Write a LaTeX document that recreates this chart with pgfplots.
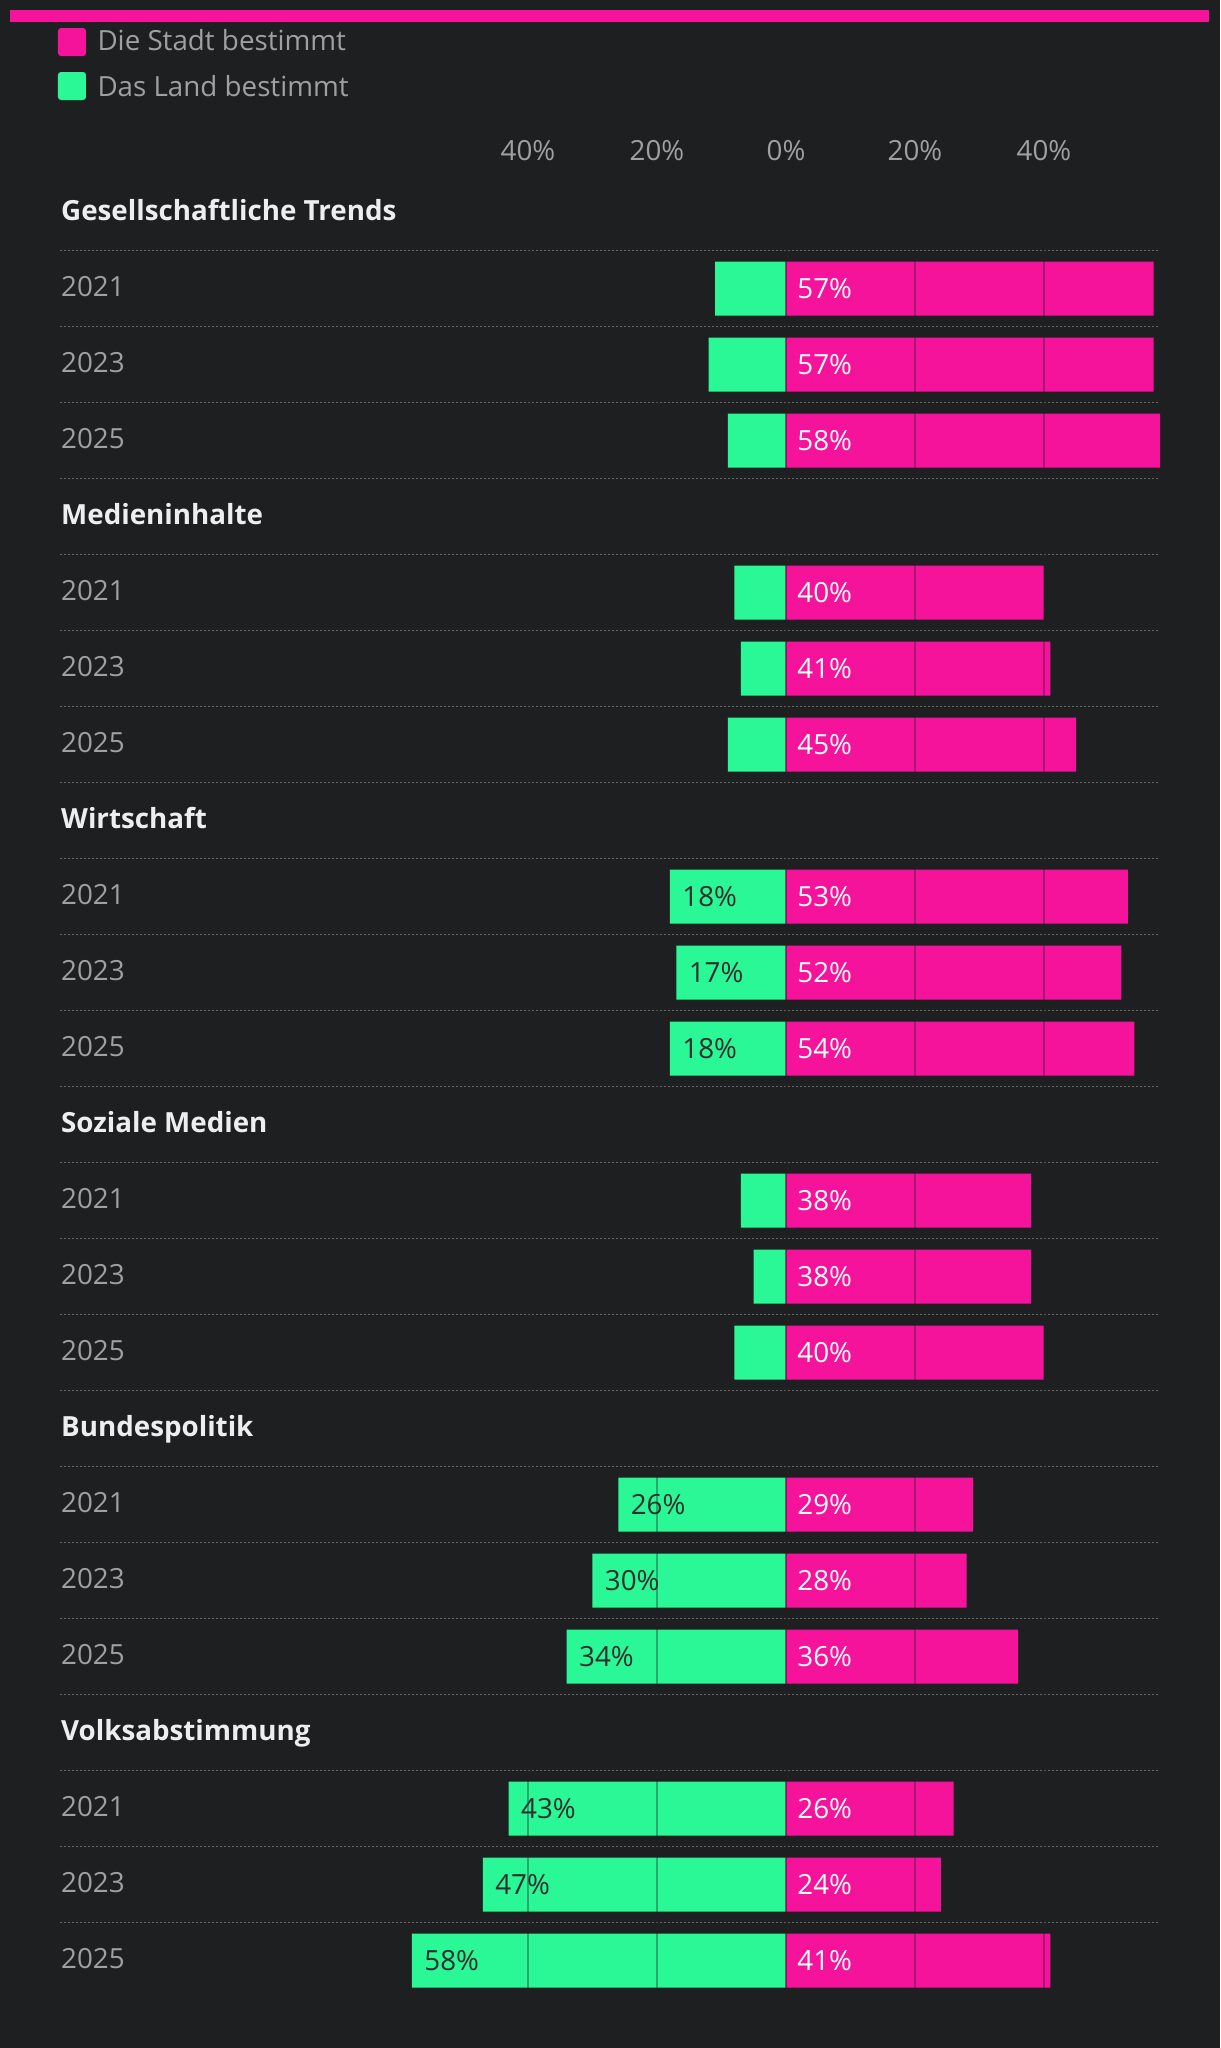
\documentclass[border=0pt]{standalone}
\usepackage{fontspec}
\setmainfont{Open Sans}
\usepackage{pgfplots}
\pgfplotsset{compat=1.18}
\definecolor{bg}{HTML}{1E1F21}
\definecolor{pinkc}{HTML}{F5139B}
\definecolor{greenc}{HTML}{2AF795}
\definecolor{txtgray}{HTML}{A0A0A0}
\definecolor{titlec}{HTML}{EEEEEE}
\definecolor{darktxt}{HTML}{2E2E2E}
\definecolor{dotc}{HTML}{666666}
\tikzset{
  lbl/.style={anchor=base west, inner sep=0pt, text=txtgray},
  ttl/.style={anchor=base west, inner sep=0pt, text=titlec, font=\bfseries},
  tck/.style={anchor=base, inner sep=0pt, text=txtgray},
}
\begin{document}
\fontsize{11.1}{13.3}\selectfont
\begin{tikzpicture}
\begin{axis}[
  width=488pt, height=819.2pt, scale only axis,
  xmin=-121.86, xmax=67.29, ymin=0, ymax=2048, y dir=reverse,
  axis background/.style={fill=bg},
  axis line style={draw=none}, xtick=\empty, ytick=\empty,
  clip=false,
]
% top accent bar
\fill[pinkc] (axis cs:-120.31,10) rectangle (axis cs:65.58,21.7);
% legend
\fill[pinkc, rounded corners=1.2pt] (axis cs:-112.87,28) rectangle (axis cs:-108.53,56);
\fill[greenc, rounded corners=1.2pt] (axis cs:-112.87,72) rectangle (axis cs:-108.53,100);
\node[lbl] at (axis cs:-106.82,50.7) {Die Stadt bestimmt};
\node[lbl] at (axis cs:-106.82,96) {Das Land bestimmt};
% tick labels
\node[tck] at (axis cs:-40,160.7) {40\%};
\node[tck] at (axis cs:-20,160.7) {20\%};
\node[tck] at (axis cs:0,160.7) {0\%};
\node[tck] at (axis cs:20,160.7) {20\%};
\node[tck] at (axis cs:40,160.7) {40\%};
% dotted separators
\pgfplotsinvokeforeach{0,...,22}{
  \draw[dotc, line width=0.5pt, dash pattern=on 0.8pt off 0.8pt] (axis cs:-112.56,{250.7+76*#1}) -- (axis cs:57.98,{250.7+76*#1});
}
% group titles
\node[ttl] at (axis cs:-112.45,220) {Gesellschaftliche Trends};
\node[ttl] at (axis cs:-112.45,524) {Medieninhalte};
\node[ttl] at (axis cs:-112.45,828) {Wirtschaft};
\node[ttl] at (axis cs:-112.45,1132) {Soziale Medien};
\node[ttl] at (axis cs:-112.45,1436) {Bundespolitik};
\node[ttl] at (axis cs:-112.45,1740) {Volksabstimmung};
% year labels
\pgfplotsinvokeforeach{0,1,2,3,4,5}{
  \node[lbl] at (axis cs:-112.45,{296+304*#1}) {2021};
  \node[lbl] at (axis cs:-112.45,{372+304*#1}) {2023};
  \node[lbl] at (axis cs:-112.45,{448+304*#1}) {2025};
}
% bars: Das Land bestimmt (negative side)
\addplot[xbar, bar width=21.6pt, bar shift=0pt, fill=greenc, draw=none] coordinates {
  (-11,288.7) (-12,364.7) (-9,440.7)
  (-8,592.7) (-7,668.7) (-9,744.7)
  (-18,896.7) (-17,972.7) (-18,1048.7)
  (-7,1200.7) (-5,1276.7) (-8,1352.7)
  (-26,1504.7) (-30,1580.7) (-34,1656.7)
  (-43,1808.7) (-47,1884.7) (-58,1960.7)
};
% bars: Die Stadt bestimmt (positive side)
\addplot[xbar, bar width=21.6pt, bar shift=0pt, fill=pinkc, draw=none] coordinates {
  (57,288.7) (57,364.7) (58,440.7)
  (40,592.7) (41,668.7) (45,744.7)
  (53,896.7) (52,972.7) (54,1048.7)
  (38,1200.7) (38,1276.7) (40,1352.7)
  (29,1504.7) (28,1580.7) (36,1656.7)
  (26,1808.7) (24,1884.7) (41,1960.7)
};
% grid lines (background coloured, semi-transparent: visible only over bars)
\pgfplotsinvokeforeach{-40,-20,20,40}{
  \draw[bg, opacity=0.35, line width=0.8pt] (axis cs:#1,174) -- (axis cs:#1,1990);
}
\draw[bg, opacity=0.5, line width=0.9pt] (axis cs:0,174) -- (axis cs:0,1990);
% value labels
\addplot[draw=none, mark=none, nodes near coords, point meta=explicit symbolic,
  every node near coord/.append style={anchor=base west, inner sep=0pt, text=darktxt, xshift=4.8pt, yshift=-3.8pt}]
  coordinates {
  (-18,896.7) [18\%] (-17,972.7) [17\%] (-18,1048.7) [18\%]
  (-26,1504.7) [26\%] (-30,1580.7) [30\%] (-34,1656.7) [34\%]
  (-43,1808.7) [43\%] (-47,1884.7) [47\%] (-58,1960.7) [58\%]
};
\addplot[draw=none, mark=none, nodes near coords, point meta=explicit symbolic,
  every node near coord/.append style={anchor=base west, inner sep=0pt, text=white, xshift=4.4pt, yshift=-3.8pt}]
  coordinates {
  (0,288.7) [57\%] (0,364.7) [57\%] (0,440.7) [58\%]
  (0,592.7) [40\%] (0,668.7) [41\%] (0,744.7) [45\%]
  (0,896.7) [53\%] (0,972.7) [52\%] (0,1048.7) [54\%]
  (0,1200.7) [38\%] (0,1276.7) [38\%] (0,1352.7) [40\%]
  (0,1504.7) [29\%] (0,1580.7) [28\%] (0,1656.7) [36\%]
  (0,1808.7) [26\%] (0,1884.7) [24\%] (0,1960.7) [41\%]
};
\end{axis}
\end{tikzpicture}
\end{document}
